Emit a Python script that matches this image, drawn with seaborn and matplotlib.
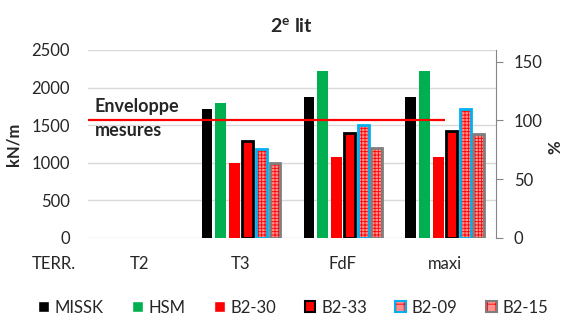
import numpy as np
import pandas as pd
import matplotlib
matplotlib.use('Agg')
import matplotlib.pyplot as plt
import seaborn as sns
from matplotlib.patches import Patch, Rectangle
from matplotlib.transforms import offset_copy

# data
cats = ['T2', 'T3', 'FdF', 'maxi']
series = ['MISSK', 'HSM', 'B2-30', 'B2-33', 'B2-09', 'B2-15']
missk = [np.nan, 1710, 1870, 1870]
hsm = [np.nan, 1790, 2220, 2220]
b2_30 = [np.nan, 1000, 1070, 1070]
b2_33 = [np.nan, 1290, 1390, 1420]
b2_09 = [np.nan, 1180, 1500, 1720]
b2_15 = [np.nan, 990, 1190, 1380]
envelope_pct = 100
left_ticks = [0, 500, 1000, 1500, 2000, 2500]
right_ticks = [0, 50, 100, 150]

colors = {'MISSK': '#000000', 'HSM': '#00B050', 'B2-30': '#FF0000',
          'B2-33': '#FF0000', 'B2-09': '#FF9090', 'B2-15': '#FF9090'}
edges = {'B2-33': '#000000', 'B2-09': '#00B0F0', 'B2-15': '#7F7F7F'}
hatched = ['B2-09', 'B2-15']

sns.set_style('white')
plt.rcParams['font.family'] = ['Lato', 'DejaVu Sans']
plt.rcParams['mathtext.fontset'] = 'custom'
plt.rcParams['mathtext.bf'] = 'Lato:bold'
plt.rcParams['hatch.linewidth'] = 0.6

df = pd.DataFrame({'cat': cats, 'MISSK': missk, 'HSM': hsm, 'B2-30': b2_30,
                   'B2-33': b2_33, 'B2-09': b2_09, 'B2-15': b2_15})
df = df.melt(id_vars='cat', var_name='serie', value_name='val')

fig = plt.figure(figsize=(5.68, 3.22), dpi=100)
ax = fig.add_axes([0.155, 0.261, 0.718, 0.584])

sns.barplot(data=df, x='cat', y='val', hue='serie', order=cats, hue_order=series,
            palette=colors, width=0.8, gap=0.2, saturation=1, linewidth=0,
            errorbar=None, legend=False, ax=ax)

# per-series bar styling
for name, cont in zip(series, ax.containers):
    for bar in cont:
        if name == 'B2-33':
            bar.set_edgecolor(edges[name])
            bar.set_linewidth(2)
        elif name in hatched:
            bar.set_edgecolor('#FF0000')
            bar.set_hatch('+++++')
            bar.set_linewidth(0)
            ax.add_patch(Rectangle(bar.get_xy(), bar.get_width(), bar.get_height(),
                                   fill=False, edgecolor=edges[name], linewidth=2))

ax.set_ylim(0, 2500)
ax.set_yticks(left_ticks)
ax.set_xlim(-0.5, len(cats) - 0.5)
ax.grid(axis='y', color='#D9D9D9', linewidth=1)
ax.set_xlabel('')
ax.set_ylabel('')
for s in ['left', 'top', 'right', 'bottom']:
    ax.spines[s].set_visible(False)
ax.tick_params(axis='y', length=0, pad=13, labelsize=12)
ax.tick_params(axis='x', length=0, pad=13, labelsize=12)

# TERR. label sits left of the plot, aligned with the category labels
trans = offset_copy(ax.get_xaxis_transform(), fig=fig, y=-13, units='points')
ax.text(-0.84, 0, 'TERR.', transform=trans, ha='center', va='top', fontsize=12)

ax.text(0.017, 0.635, 'Enveloppe\nmesures', transform=ax.transAxes, ha='left',
        va='center', fontsize=13, fontweight='bold', linespacing=1.45)

ax.set_title(r'$\mathbf{2^{e}}$ lit', fontsize=14, fontweight='bold', pad=13)

# secondary axis in %
ax2 = ax.twinx()
ax2.set_ylim(0, 160)
ax2.set_yticks(right_ticks)
ax2.hlines(envelope_pct, -0.5, len(cats) - 1, color='#FF0000', linewidth=1.6)
for s in ['left', 'top', 'bottom']:
    ax2.spines[s].set_visible(False)
ax2.spines['right'].set_color('#868686')
ax2.tick_params(axis='y', direction='out', length=5, color='#868686', pad=8,
                labelsize=12)

fig.text(14 / 568, 0.553, 'kN/m', rotation=90, ha='center', va='center',
         fontsize=12, fontweight='bold')
fig.text(555 / 568, 0.543, '%', rotation=90, ha='center', va='center',
         fontsize=12, fontweight='bold')

# legend
handles = [
    Patch(facecolor='#000000'),
    Patch(facecolor='#00B050'),
    Patch(facecolor='#FF0000'),
    Patch(facecolor='#FF0000', edgecolor='#000000', linewidth=1.5),
    (Patch(facecolor='#FF9090', edgecolor='#FF0000', hatch='++', linewidth=0),
     Patch(fill=False, edgecolor='#00B0F0', linewidth=1.5)),
    (Patch(facecolor='#FF9090', edgecolor='#FF0000', hatch='++', linewidth=0),
     Patch(fill=False, edgecolor='#7F7F7F', linewidth=1.5)),
]
fig.legend(handles, series, loc='center', bbox_to_anchor=(0.516, 0.045), ncol=6,
           frameon=False, fontsize=12, handlelength=0.65, handleheight=0.65,
           handletextpad=0.35, columnspacing=1.7, borderaxespad=0)

fig.savefig('out.png', dpi=100)
